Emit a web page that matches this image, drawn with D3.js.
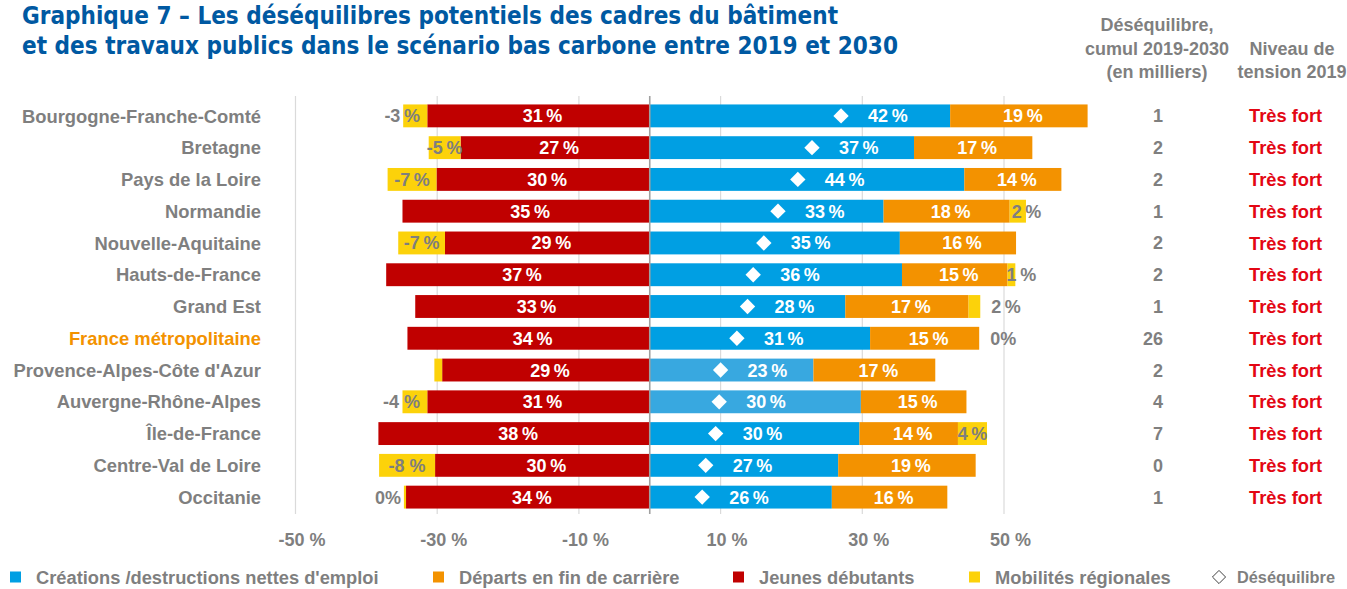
<!DOCTYPE html>
<html><head><meta charset="utf-8">
<script src="https://cdn.jsdelivr.net/npm/d3@7"></script>
<style>
html,body{margin:0;padding:0;background:#fff;}
svg{display:block;font-family:"Liberation Sans",Arial,sans-serif;}
</style></head>
<body>
<svg id="chart" width="1347" height="589"></svg>
<script>
// ---------- DATA ----------
const regions = ["Bourgogne-Franche-Comté","Bretagne","Pays de la Loire","Normandie","Nouvelle-Aquitaine","Hauts-de-France","Grand Est","France métropolitaine","Provence-Alpes-Côte d'Azur","Auvergne-Rhône-Alpes","Île-de-France","Centre-Val de Loire","Occitanie"];
const creations  = [42.4, 37.3, 44.4, 33.0, 35.3, 35.6, 27.6, 31.1, 23.1, 29.8, 29.6, 26.6, 25.7];
const departs    = [19.4, 16.7, 13.7, 17.8, 16.4, 14.9, 17.4, 15.4, 17.2, 14.9, 13.9, 19.4, 16.3];
const debutants  = [-31.4, -26.7, -30.1, -34.9, -28.9, -37.2, -33.1, -34.2, -29.3, -31.4, -38.3, -30.3, -34.4];
const mobilites  = [-3.4, -4.5, -6.9, 2.3, -6.6, 1.1, 1.65, 0.0, -1.1, -3.5, 4.1, -7.9, -0.3];
const mobilitesLabels = ["-3%","-5%","-7%","2%","-7%","1%","2%","0%","","-4 %","4%","-8 %","0%"];
const desequilibre = [27.0, 22.9, 20.9, 18.1, 16.1, 14.6, 13.8, 12.3, 10.0, 9.8, 9.3, 7.9, 7.4];
const cumulMilliers = ["1","2","2","1","2","2","1","26","2","4","7","0","1"];
const tension = ["Très fort","Très fort","Très fort","Très fort","Très fort","Très fort","Très fort","Très fort","Très fort","Très fort","Très fort","Très fort","Très fort"];
const lightBlueRegions = ["Provence-Alpes-Côte d'Azur","Auvergne-Rhône-Alpes"];
const xTicks = [-50,-30,-10,10,30,50];
const titleLines = ["Graphique 7 –  Les déséquilibres potentiels des cadres du bâtiment",
                    "et des travaux publics dans le scénario bas carbone entre 2019 et 2030"];
const headerCumul = ["Déséquilibre,","cumul 2019-2030","(en milliers)"];
const headerTension = ["Niveau de","tension 2019"];
const legendItems = [
  {label:"Créations /destructions nettes d'emploi", key:"blue"},
  {label:"Départs en fin de carrière", key:"orange"},
  {label:"Jeunes débutants", key:"red"},
  {label:"Mobilités régionales", key:"yellow"},
  {label:"Déséquilibre", key:"diamond"}
];

// ---------- STYLE ----------
const C = {blue:"#009FE3", lightBlue:"#38A8E0", orange:"#F39200", red:"#C00000", yellow:"#FCD20A",
           grey:"#7F7F7F", title:"#0059A2", tres:"#E30613", grid:"#DADADA", axis:"#A0A0A0"};
const thin = "\u2009";
const pct = v => Math.round(Math.abs(v)) + thin + "%";

const rows = regions.map((r,i)=>({region:r, i, blue:creations[i], orange:departs[i], red:debutants[i],
  yellow:mobilites[i], ylab:mobilitesLabels[i], diamond:desequilibre[i]}));

const svg = d3.select("#chart");
svg.append("rect").attr("width",1347).attr("height",589).attr("fill","#fff");

const x = d3.scaleLinear().domain([-50,50]).range([295.5,1004]);
const y = d3.scaleBand().domain(regions).range([100,513]).paddingInner(0.28).paddingOuter(0.14);
const yc = r => y(r) + y.bandwidth()/2;

// title
svg.append("g").selectAll("text").data(titleLines).join("text")
  .attr("x",22).attr("y",(d,i)=>24+i*30)
  .attr("font-family","'DejaVu Sans Condensed','DejaVu Sans',sans-serif")
  .attr("font-weight","bold").attr("font-size",24.5).attr("fill",C.title)
  .attr("textLength",(d,i)=>i===0?816:876).attr("lengthAdjust","spacingAndGlyphs")
  .text(d=>d);

// headers
svg.append("g").selectAll("text").data(headerCumul).join("text")
  .attr("x",1157).attr("y",(d,i)=>31+i*23.5).attr("text-anchor","middle")
  .attr("font-weight","bold").attr("font-size",18).attr("fill",C.grey).text(d=>d);
svg.append("g").selectAll("text").data(headerTension).join("text")
  .attr("x",1292).attr("y",(d,i)=>54.5+i*23.5).attr("text-anchor","middle")
  .attr("font-weight","bold").attr("font-size",18).attr("fill",C.grey).text(d=>d);

// grid
const gy0 = 96, gy1 = 514;
svg.append("g").selectAll("line").data(xTicks).join("line")
  .attr("x1",d=>x(d)).attr("x2",d=>x(d)).attr("y1",gy0).attr("y2",gy1)
  .attr("stroke",C.grid).attr("stroke-width",1.2);

// x axis labels
const xAxis = d3.axisBottom(x).tickValues(xTicks).tickSize(0).tickPadding(3).tickFormat(d=>d+" %");
const gx = svg.append("g").attr("transform","translate(0,530)").call(xAxis);
gx.select(".domain").remove();
gx.selectAll("text").attr("font-family","'Liberation Sans',Arial,sans-serif").attr("dx",6)
  .attr("font-weight","bold").attr("font-size",18).attr("fill",C.grey);

// bars
const bars = svg.append("g");
const bw = y.bandwidth();
bars.selectAll("rect.red").data(rows).join("rect").attr("class","red")
  .attr("x",d=>x(d.red)).attr("width",d=>x(0)-x(d.red)).attr("y",d=>y(d.region)).attr("height",bw).attr("fill",C.red);
bars.selectAll("rect.yneg").data(rows.filter(d=>d.yellow<0)).join("rect").attr("class","yneg")
  .attr("x",d=>x(d.red+d.yellow)).attr("width",d=>x(d.red)-x(d.red+d.yellow)).attr("y",d=>y(d.region)).attr("height",bw).attr("fill",C.yellow);
bars.selectAll("rect.blue").data(rows).join("rect").attr("class","blue")
  .attr("x",x(0)).attr("width",d=>x(d.blue)-x(0)).attr("y",d=>y(d.region)).attr("height",bw)
  .attr("fill",d=>lightBlueRegions.includes(d.region)?C.lightBlue:C.blue);
bars.selectAll("rect.orange").data(rows).join("rect").attr("class","orange")
  .attr("x",d=>x(d.blue)).attr("width",d=>x(d.blue+d.orange)-x(d.blue)).attr("y",d=>y(d.region)).attr("height",bw).attr("fill",C.orange);
bars.selectAll("rect.ypos").data(rows.filter(d=>d.yellow>0)).join("rect").attr("class","ypos")
  .attr("x",d=>x(d.blue+d.orange)).attr("width",d=>x(d.blue+d.orange+d.yellow)-x(d.blue+d.orange)).attr("y",d=>y(d.region)).attr("height",bw).attr("fill",C.yellow);

// zero axis
svg.append("line").attr("x1",x(0)).attr("x2",x(0)).attr("y1",gy0).attr("y2",gy1)
  .attr("stroke",C.axis).attr("stroke-width",1.6);

// diamonds
const diamond = d3.symbol().type(d3.symbolDiamond2).size(150);
svg.append("g").selectAll("path").data(rows).join("path")
  .attr("d",diamond).attr("transform",d=>`translate(${x(d.diamond)},${yc(d.region)})`)
  .attr("fill","#fff");

// labels
const lab = svg.append("g").attr("font-weight","bold").attr("font-size",18);
lab.selectAll("text.r").data(rows).join("text").attr("class","r")
  .attr("x",d=>(x(d.red)+x(0))/2+4).attr("y",d=>yc(d.region)).attr("dy","0.36em")
  .attr("text-anchor","middle").attr("fill","#fff").text(d=>pct(d.red));
lab.selectAll("text.b").data(rows).join("text").attr("class","b")
  .attr("x",d=>x(d.diamond)+27).attr("y",d=>yc(d.region)).attr("dy","0.36em")
  .attr("text-anchor","start").attr("fill","#fff").text(d=>pct(d.blue));
lab.selectAll("text.o").data(rows).join("text").attr("class","o")
  .attr("x",d=>(x(d.blue)+x(d.blue+d.orange))/2+4).attr("y",d=>yc(d.region)).attr("dy","0.36em")
  .attr("text-anchor","middle").attr("fill","#fff").text(d=>pct(d.orange));
function yellowPos(d){
  if(d.yellow<0){
    const x0 = x(d.red+d.yellow), x1 = x(d.red), w = x1-x0;
    if(w>=28) return {x:(x0+x1)/2, a:"middle"};
    if(w>=5) return {x:x0-1, a:"middle"};
    return {x:x0-3, a:"end"};
  } else {
    const x0 = x(d.blue+d.orange), x1 = x(d.blue+d.orange+d.yellow), w = x1-x0;
    if(w>=25) return {x:(x0+x1)/2, a:"middle"};
    if(w>=14) return {x:x0+2, a:"start"};
    if(w>=5 && w<10) return {x:x0-1, a:"start"};
    return {x:x1+11, a:"start"};
  }
}
lab.selectAll("text.y").data(rows.filter(d=>d.ylab!=="")).join("text").attr("class","y")
  .attr("x",d=>yellowPos(d).x).attr("text-anchor",d=>yellowPos(d).a)
  .attr("y",d=>yc(d.region)).attr("dy","0.36em").attr("fill",C.grey)
  .text(d=>d.ylab==="0%"?d.ylab:d.ylab.replace(/(\d)%/,"$1"+thin+"%"));

// region labels
svg.append("g").selectAll("text").data(rows).join("text")
  .attr("x",261).attr("y",d=>yc(d.region)).attr("dy","0.36em").attr("text-anchor","end")
  .attr("font-weight","bold").attr("font-size",18.4)
  .attr("fill",d=>d.region==="France métropolitaine"?C.orange:C.grey).text(d=>d.region);

// right columns
svg.append("g").selectAll("text").data(rows).join("text")
  .attr("x",1163).attr("y",d=>yc(d.region)).attr("dy","0.36em").attr("text-anchor","end")
  .attr("font-weight","bold").attr("font-size",18).attr("fill",C.grey).text(d=>cumulMilliers[d.i]);
svg.append("g").selectAll("text").data(rows).join("text")
  .attr("x",1249).attr("y",d=>yc(d.region)).attr("dy","0.36em").attr("text-anchor","start")
  .attr("font-weight","bold").attr("font-size",18.3).attr("fill",C.tres).text(d=>tension[d.i]);

// legend
const legX = [10, 433, 733, 969, 1219];
const lg = svg.append("g");
legendItems.forEach((it,i)=>{
  const g = lg.append("g").attr("transform",`translate(${legX[i]},577)`);
  if(it.key==="diamond"){
    g.append("path").attr("d",d3.symbol().type(d3.symbolDiamond2).size(110))
      .attr("fill","#fff").attr("stroke","#404040").attr("stroke-width",1);
    g.append("text").attr("x",18).attr("dy","0.36em").attr("font-weight","bold").attr("font-size",17)
      .attr("textLength",98).attr("lengthAdjust","spacingAndGlyphs")
      .attr("fill",C.grey).text(it.label);
  } else {
    g.append("rect").attr("x",0).attr("y",-5.5).attr("width",11).attr("height",11).attr("fill",C[it.key]);
    g.append("text").attr("x",26).attr("dy","0.36em").attr("font-weight","bold").attr("font-size",18.3)
      .attr("fill",C.grey).text(it.label);
  }
});
</script>
</body></html>
